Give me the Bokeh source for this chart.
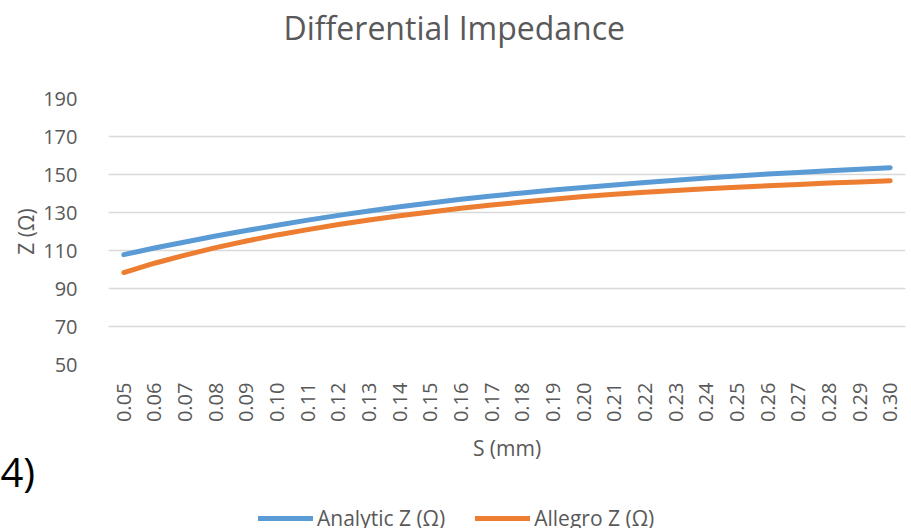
import math
from bokeh.plotting import figure
from bokeh.layouts import column
from bokeh.models import (Range1d, FactorRange, FixedTicker, Legend, LegendItem, Title)
from bokeh.embed import file_html
from bokeh.resources import INLINE

# Spacing S (mm) and differential impedance (ohm)
spacing = ["0.05", "0.06", "0.07", "0.08", "0.09", "0.10", "0.11", "0.12", "0.13",
           "0.14", "0.15", "0.16", "0.17", "0.18", "0.19", "0.20", "0.21", "0.22",
           "0.23", "0.24", "0.25", "0.26", "0.27", "0.28", "0.29", "0.30"]
analytic_z = [107.8, 111.3, 114.5, 117.6, 120.5, 123.3, 126.0, 128.5, 130.8,
              133.0, 135.0, 137.0, 138.7, 140.3, 141.8, 143.2, 144.5, 145.8,
              147.0, 148.1, 149.2, 150.2, 151.1, 152.0, 152.8, 153.6]
allegro_z = [98.4, 103.3, 107.6, 111.5, 115.0, 118.2, 121.0, 123.7, 126.1,
             128.3, 130.3, 132.2, 133.9, 135.5, 137.0, 138.4, 139.6, 140.7,
             141.6, 142.5, 143.3, 144.1, 144.8, 145.5, 146.1, 146.7]
y_ticks = [50, 70, 90, 110, 130, 150, 170, 190]
series_names = ["Analytic Z (Ω)", "Allegro Z (Ω)"]
series_colors = ["#5B9BD5", "#ED7D31"]
series_values = [analytic_z, allegro_z]

FONT = "Open Sans"
GREY = "#595959"

# ---- main chart -------------------------------------------------------------
p = figure(width=911, height=498, frame_width=797, frame_height=266,
           output_backend="svg", toolbar_location=None,
           x_range=FactorRange(factors=spacing, range_padding=0),
           y_range=Range1d(50, 190), title=None,
           min_border_left=108, min_border_right=6, min_border_top=98,
           min_border_bottom=134)
p.outline_line_color = None
p.background_fill_color = "white"
p.border_fill_color = "white"

for vals, col in zip(series_values, series_colors):
    p.line(spacing, vals, line_color=col, line_width=5,
           line_cap="round", line_join="round")

# axes
p.yaxis.ticker = FixedTicker(ticks=y_ticks)
p.yaxis.axis_line_color = None
p.yaxis.major_tick_line_color = None
p.yaxis.minor_tick_line_color = None
p.yaxis.major_label_standoff = 25
p.yaxis.major_label_text_font = FONT
p.yaxis.major_label_text_font_size = "20px"
p.yaxis.major_label_text_color = GREY
p.yaxis.axis_label = "Z (Ω)"
p.yaxis.axis_label_text_font = FONT
p.yaxis.axis_label_text_font_size = "21px"
p.yaxis.axis_label_text_font_style = "normal"
p.yaxis.axis_label_text_color = GREY
p.yaxis.axis_label_standoff = 0

p.xaxis.axis_line_color = None
p.xaxis.major_tick_line_color = None
p.xaxis.minor_tick_line_color = None
p.xaxis.major_label_orientation = math.pi / 2
p.xaxis.major_label_standoff = 12
p.xaxis.major_label_text_font = FONT
p.xaxis.major_label_text_font_size = "20px"
p.xaxis.major_label_text_color = GREY
p.xaxis.axis_label = "S (mm)"
p.xaxis.axis_label_text_font = FONT
p.xaxis.axis_label_text_font_size = "21px"
p.xaxis.axis_label_text_font_style = "normal"
p.xaxis.axis_label_text_color = GREY
p.xaxis.axis_label_standoff = 9

p.xgrid.grid_line_color = None
p.ygrid.ticker = FixedTicker(ticks=y_ticks)
p.ygrid.grid_line_color = "#D9D9D9"
p.ygrid.grid_line_width = 1.5

# header: a blank band next to the frame, the chart title above it
p.add_layout(Title(text=" ", text_font_size="10px", standoff=37), "above")
p.add_layout(Title(text="Differential Impedance", align="left", offset=175,
                   vertical_align="bottom", standoff=0, text_font=FONT,
                   text_font_size="32px", text_font_style="normal",
                   text_color=GREY), "above")

# figure caption fragment at the left edge
p.add_layout(Title(text="4)", align="left", offset=-108, standoff=-48,
                   vertical_align="bottom", text_font=FONT,
                   text_font_size="40px", text_font_style="normal",
                   text_color="black"), "below")

# ---- legend strip -----------------------------------------------------------
# same series on a range that keeps them out of view; only their legend shows
lg = figure(width=911, height=30, output_backend="svg", toolbar_location=None,
            x_range=FactorRange(factors=spacing, range_padding=0),
            y_range=Range1d(0, 1), title=None,
            x_axis_type=None, y_axis_type=None, min_border=0)
lg.outline_line_color = None
lg.grid.visible = False
lg.background_fill_color = "white"
lg.border_fill_color = "white"

swatches = [lg.line(spacing, vals, line_color=col, line_width=5, line_cap="round")
            for vals, col in zip(series_values, series_colors)]

legend = Legend(items=[LegendItem(label=n, renderers=[r])
                       for n, r in zip(series_names, swatches)],
                orientation="horizontal", location=(150, -5),
                glyph_width=55, glyph_height=30, label_height=30,
                label_standoff=4, spacing=30, padding=0, margin=0,
                border_line_color=None, background_fill_alpha=0,
                label_text_font=FONT, label_text_font_size="21px",
                label_text_color=GREY)
lg.add_layout(legend, "center")

page = column(p, lg, spacing=0)
open("out.html", "w").write(file_html(page, INLINE))
